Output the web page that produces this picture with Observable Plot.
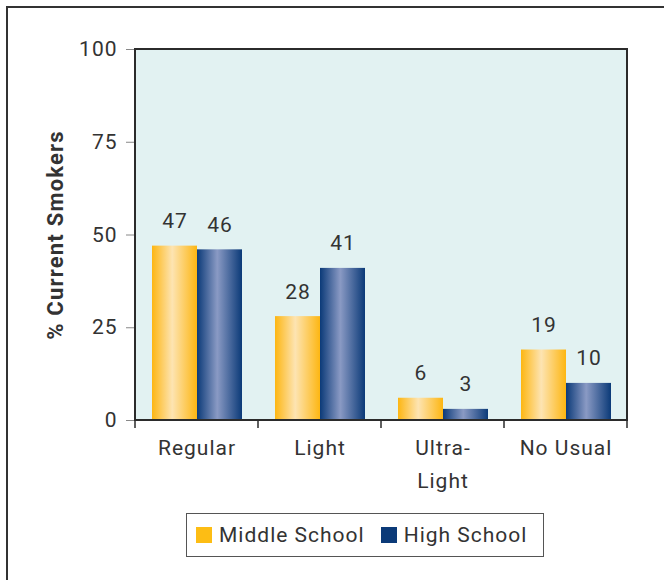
<!DOCTYPE html>
<html>
<head>
<meta charset="utf-8">
<script src="https://cdn.jsdelivr.net/npm/d3@7"></script>
<script src="https://cdn.jsdelivr.net/npm/@observablehq/plot@0.6"></script>
<style>
  html, body { margin: 0; padding: 0; background: #fff; overflow: hidden; width: 664px; height: 580px; }
  #box { position: absolute; left: 6px; top: 6px; width: 740px; height: 660px; border: 2px solid #333; box-sizing: border-box; }
  #chart { position: absolute; left: 0; top: 0; }
  #legend { position: absolute; left: 186px; top: 513px; width: 358px; height: 44px; box-sizing: border-box;
            border: 1px solid #555; display: flex; align-items: center; padding-left: 9px;
            font-family: Roboto, sans-serif; font-size: 21px; letter-spacing: 1px; color: #333; background: #fff; }
  .sw { width: 16px; height: 16px; margin-right: 7px; display: inline-block; }
  .item { display: flex; align-items: center; }
</style>
</head>
<body>
<div id="box"></div>
<div id="chart"></div>
<div id="legend">
  <div class="item"><span class="sw" style="background:#fdbd14"></span><span>Middle School</span></div>
  <div class="item" style="margin-left:16px"><span class="sw" style="background:#0b3a78"></span><span>High School</span></div>
</div>
<script>
const categories = ["Regular", "Light", "Ultra-\nLight", "No Usual"];
const schools = ["Middle School", "High School"];
const middleSchool = [47, 28, 6, 19];
const highSchool = [46, 41, 3, 10];
const yTicks = [0, 25, 50, 75, 100];

const data = categories.flatMap((c, i) => [
  {category: c, school: schools[0], value: middleSchool[i]},
  {category: c, school: schools[1], value: highSchool[i]}
]);

const chart = Plot.plot({
  width: 664,
  height: 500,
  marginLeft: 134,
  marginRight: 36,
  marginTop: 49,
  marginBottom: 80,
  style: {background: "transparent", fontFamily: "Roboto, sans-serif", fontSize: "21px", color: "#333", letterSpacing: "1px"},
  fx: {domain: categories, padding: 0},
  x: {domain: schools, paddingInner: 0, paddingOuter: 0.36, axis: null},
  y: {domain: [0, 100]},
  color: {domain: schools, range: ["url(#grad-ms)", "url(#grad-hs)"]},
  marks: [
    Plot.frame({fill: "#e2f2f2", stroke: "#e2f2f2", strokeWidth: 1}),
    Plot.barY(data, {fx: "category", x: "school", y: "value", fill: "school"}),
    Plot.text(data, {fx: "category", x: "school", y: "value", text: d => String(d.value), dy: -18, lineAnchor: "bottom", fill: "#333"}),
    Plot.axisY({ticks: yTicks, tickSize: 9, tickPadding: 9, stroke: "#888", fill: "#333",
                label: "% Current Smokers", labelAnchor: "center", labelArrow: "none", labelOffset: 88}),
    Plot.axisFx({anchor: "bottom", tickSize: 0, tickPadding: 11, lineHeight: 1.58, label: null, fill: "#333"})
  ]
});

document.getElementById("chart").appendChild(chart);

const svgSel = d3.select(chart);
// gradients for the bar fills
const defs = svgSel.insert("defs", ":first-child");
function grad(id, edge, mid) {
  const gr = defs.append("linearGradient").attr("id", id).attr("x1", 0).attr("x2", 1).attr("y1", 0).attr("y2", 0);
  gr.append("stop").attr("offset", "0%").attr("stop-color", edge);
  gr.append("stop").attr("offset", "45%").attr("stop-color", mid);
  gr.append("stop").attr("offset", "100%").attr("stop-color", edge);
}
grad("grad-ms", "#fdb612", "#fde4b2");
grad("grad-hs", "#0b3a78", "#8a9ac4");

// bold y label
svgSel.selectAll("g[aria-label='y-axis label'] text").attr("font-weight", "bold").attr("font-size", 22).style("letter-spacing", "1.2px");

// plot frame and category boundary ticks using the chart's scales
const fxScale = chart.scale("fx"), yScale = chart.scale("y");
const xLeft = fxScale.apply(categories[0]);
const xRight = fxScale.apply(categories[categories.length - 1]) + fxScale.bandwidth;
const yTop = yScale.apply(100), yBottom = yScale.apply(0);
const frameG = svgSel.append("g");
frameG.append("rect").attr("x", xLeft).attr("y", yTop).attr("width", xRight - xLeft).attr("height", yBottom - yTop)
  .attr("fill", "none").attr("stroke", "#2b2b2b").attr("stroke-width", 2);
const bounds = categories.map(c => fxScale.apply(c)).concat([xRight]);
frameG.selectAll("line").data(bounds).join("line")
  .attr("x1", d => d).attr("x2", d => d).attr("y1", yBottom).attr("y2", yBottom + 8)
  .attr("stroke", "#2b2b2b").attr("stroke-width", 1.5);
</script>
</body>
</html>
